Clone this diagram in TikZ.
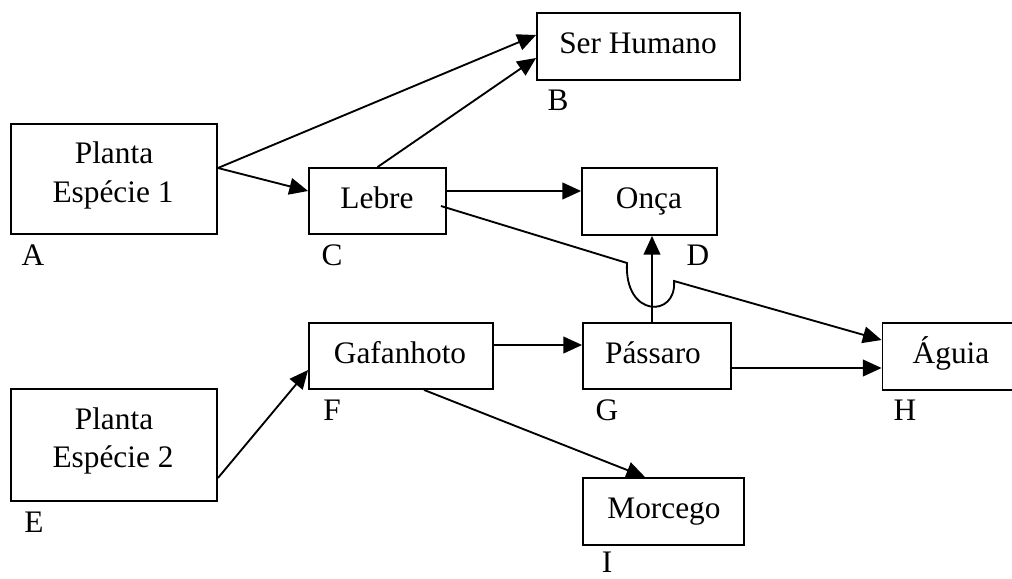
\documentclass[tikz,border=0pt]{standalone}
\usepackage{fontspec}
\setmainfont{Liberation Serif}
\usetikzlibrary{calc,arrows.meta}
\begin{document}
\begin{tikzpicture}[x=0.75pt,y=-0.75pt,
  box/.style={draw,line width=1.4pt,inner sep=0pt,minimum width=#1},
  txt/.style={inner sep=0pt,anchor=base,font=\fontsize{23.5}{29}\selectfont,align=center},
  lab/.style={inner sep=0pt,font=\fontsize{23.5}{29}\selectfont},
  arr/.style={line width=1.4pt,-{Triangle[length=14pt,width=12.5pt]}},
  ln/.style={line width=1.4pt}]
\useasboundingbox (0,0) rectangle (1012,578);
% boxes
\node[box=154.5pt,minimum height=82.5pt] (A) at (114,179) {};
\node[box=152.25pt,minimum height=50.25pt] (B) at (638.5,46.5) {};
\node[box=102.75pt,minimum height=49.5pt] (C) at (377.5,201) {};
\node[box=101.25pt,minimum height=50.25pt] (D) at (649.5,201.5) {};
\node[box=154.5pt,minimum height=84pt] (E) at (114,445) {};
\node[box=138pt,minimum height=49.5pt] (F) at (401,356) {};
\node[box=111pt,minimum height=49.5pt] (G) at (657,356) {};
\node[box=106.5pt,minimum height=50.25pt] (H) at (953.5,356.5) {};
\node[box=120.75pt,minimum height=50.25pt] (I) at (663.5,511.5) {};
% texts
\node[txt] (tA1) at (114,163) {Planta};
\node[txt] (tA2) at (113,202) {Espécie 1};
\node[txt] (tB) at (638,53) {Ser Humano};
\node[txt] (tC) at (377,208) {Lebre};
\node[txt] (tD) at (649,208) {Onça};
\node[txt] (tE1) at (114,429) {Planta};
\node[txt] (tE2) at (113,467) {Espécie 2};
\node[txt] (tF) at (400,363) {Gafanhoto};
\node[txt] (tG) at (653,363) {Pássaro};
\node[txt] (tH) at (951,363) {Águia};
\node[txt] (tI) at (664,518) {Morcego};
% letters
\node[lab] (lA) at (33,255) {A};
\node[lab] (lB) at (558,100) {B};
\node[lab] (lC) at (332,255) {C};
\node[lab] (lD) at (698,255) {D};
\node[lab] (lE) at (34,522) {E};
\node[lab] (lF) at (332,410) {F};
\node[lab] (lG) at (607,410) {G};
\node[lab] (lH) at (905,410) {H};
\node[lab] (lI) at (607,562) {I};
% connectors
\draw[arr] ($(A.east)+(0,-11)$) -- ($(B.west)+(0,-11.5)$);
\draw[arr] (C.north) -- ($(B.west)+(0,11.5)$);
\draw[arr] ($(A.east)+(0,-11)$) -- ($(C.west)+(0,-10)$);
\draw[arr] ($(C.east)+(0,-10)$) -- ($(D.west)+(0,-10.5)$);
\coordinate (cs) at ($(C.east)+(-6,5)$);
\coordinate (hopL) at (627,263);
\coordinate (hopR) at (674,281);
\draw[arr] (cs) -- (hopL) .. controls (624,318) and (677,318) .. (hopR) -- ($(H.west)+(0,-16.5)$);
\draw[arr] ($(G.north)+(-5,0)$) -- ($(D.south)+(2.5,0)$);
\draw[arr] ($(F.east)+(0,-11)$) -- ($(G.west)+(0,-11)$);
\draw[arr] ($(G.east)+(0,12)$) -- ($(H.west)+(0,11.5)$);
\draw[arr] ($(E.east)+(0,33)$) -- ($(F.west)+(0,14)$);
\draw[arr] ($(F.south)+(23,0)$) -- ($(I.north)+(-18.5,0)$);
\end{tikzpicture}
\end{document}
